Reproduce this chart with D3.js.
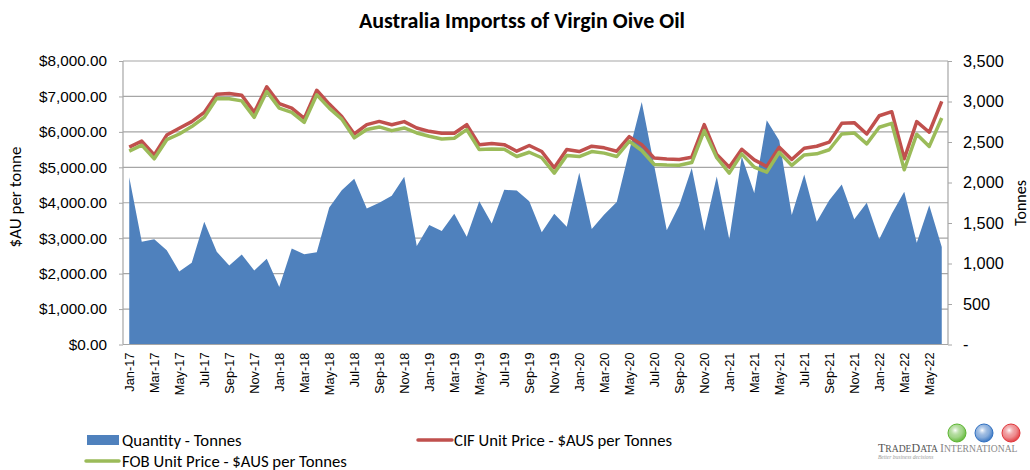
<!DOCTYPE html>
<html>
<head>
<meta charset="utf-8">
<script src="https://cdn.jsdelivr.net/npm/d3@7"></script>
<style>
  html, body { margin: 0; padding: 0; background: #fff; }
  svg { display: block; font-family: Carlito, Calibri, Lato, "Open Sans", sans-serif; }
</style>
</head>
<body>
<svg id="chart" width="1030" height="470"></svg>
<script>
const months = ["Jan-17","Feb-17","Mar-17","Apr-17","May-17","Jun-17","Jul-17","Aug-17","Sep-17","Oct-17","Nov-17","Dec-17",
  "Jan-18","Feb-18","Mar-18","Apr-18","May-18","Jun-18","Jul-18","Aug-18","Sep-18","Oct-18","Nov-18","Dec-18",
  "Jan-19","Feb-19","Mar-19","Apr-19","May-19","Jun-19","Jul-19","Aug-19","Sep-19","Oct-19","Nov-19","Dec-19",
  "Jan-20","Feb-20","Mar-20","Apr-20","May-20","Jun-20","Jul-20","Aug-20","Sep-20","Oct-20","Nov-20","Dec-20",
  "Jan-21","Feb-21","Mar-21","Apr-21","May-21","Jun-21","Jul-21","Aug-21","Sep-21","Oct-21","Nov-21","Dec-21",
  "Jan-22","Feb-22","Mar-22","Apr-22","May-22","Jun-22"];

const quantityTonnes = [2065,1270,1300,1165,900,1010,1515,1145,975,1110,915,1060,
  710,1185,1115,1140,1690,1905,2045,1680,1750,1835,2070,1215,
  1475,1400,1615,1330,1770,1495,1910,1900,1770,1385,1615,1455,
  2120,1425,1605,1760,2390,2995,2205,1410,1720,2180,1405,2075,
  1300,2320,1870,2770,2520,1600,2100,1515,1780,1975,1545,1750,
  1300,1615,1885,1255,1720,1205];

const cifPrice = [5570,5740,5350,5910,6100,6290,6550,7065,7085,7035,6550,7270,
  6800,6670,6380,7175,6785,6435,5940,6205,6295,6200,6290,6110,
  6015,5960,5960,6205,5635,5670,5640,5455,5615,5445,4985,5500,
  5445,5595,5550,5455,5865,5640,5260,5235,5220,5285,6205,5360,
  5005,5510,5210,5025,5565,5220,5540,5595,5710,6240,6260,5940,
  6455,6570,5240,6290,5990,6860];

const fobPrice = [5455,5625,5240,5780,5940,6150,6410,6945,6935,6875,6410,7140,
  6670,6550,6270,7045,6670,6360,5830,6065,6140,6035,6110,5970,
  5875,5800,5820,6065,5500,5520,5510,5305,5425,5270,4835,5335,
  5305,5445,5400,5305,5735,5475,5080,5065,5060,5135,6035,5270,
  4835,5380,5005,4865,5425,5055,5350,5380,5495,5940,5970,5660,
  6130,6240,4930,5935,5590,6390];

const leftTicks = [0,1000,2000,3000,4000,5000,6000,7000,8000];
const rightTicks = [0,500,1000,1500,2000,2500,3000,3500];
const seriesNames = ["Quantity - Tonnes","CIF Unit Price - $AUS per Tonnes","FOB Unit Price - $AUS per Tonnes"];
const titleText = "Australia Importss of Virgin Oive Oil";

const svg = d3.select("#chart");
const L = 123, R = 948, T = 61, B = 344.5;

const x = d3.scalePoint().domain(months).range([L, R]).padding(0.5);
const yL = d3.scaleLinear().domain([0, 8000]).range([B, T]);
const yR = d3.scaleLinear().domain([0, 3500]).range([B, T]);

const gridColor = "#a6a6a6";
const blue = "#4f81bd", red = "#c0504d", green = "#9bbb59";

// title
svg.append("text").attr("x", 522).attr("y", 28).attr("text-anchor", "middle")
  .attr("font-weight", "bold").attr("font-size", 22).attr("fill", "#000").text(titleText);

// gridlines
svg.append("g").selectAll("line").data(leftTicks).join("line")
  .attr("x1", L).attr("x2", R).attr("y1", d => yL(d)).attr("y2", d => yL(d))
  .attr("stroke", gridColor).attr("stroke-width", 1.2);

// area
const area = d3.area().x((d, i) => x(months[i])).y0(B).y1(d => yR(d));
svg.append("path").datum(quantityTonnes).attr("d", area).attr("fill", blue);

// lines
const lineL = d3.line().x((d, i) => x(months[i])).y(d => yL(d));
svg.append("path").datum(cifPrice).attr("d", lineL).attr("fill", "none")
  .attr("stroke", red).attr("stroke-width", 3.5).attr("stroke-linejoin", "round");
svg.append("path").datum(fobPrice).attr("d", lineL).attr("fill", "none")
  .attr("stroke", green).attr("stroke-width", 3.5).attr("stroke-linejoin", "round");

// plot borders
svg.append("line").attr("x1", L).attr("x2", L).attr("y1", T).attr("y2", B).attr("stroke", gridColor).attr("stroke-width", 1.2);
svg.append("line").attr("x1", R).attr("x2", R).attr("y1", T).attr("y2", B).attr("stroke", gridColor).attr("stroke-width", 1.2);
svg.append("line").attr("x1", L).attr("x2", R).attr("y1", B).attr("y2", B).attr("stroke", gridColor).attr("stroke-width", 1.2);

// left axis
const fmtL = d3.format("$,.2f");
const gL = svg.append("g").attr("transform", `translate(${L},0)`)
  .call(d3.axisLeft(yL).tickValues(leftTicks).tickFormat(fmtL).tickSize(4).tickPadding(12));
gL.select(".domain").remove();
gL.selectAll("line").attr("stroke", gridColor);
gL.selectAll("text").attr("font-size", 15.3).attr("fill", "#000").attr("font-family", null);

// right axis
const fmtR = d => d === 0 ? "-" : d3.format(",")(d);
const gR = svg.append("g").attr("transform", `translate(${R},0)`)
  .call(d3.axisRight(yR).tickValues(rightTicks).tickFormat(fmtR).tickSize(4).tickPadding(11));
gR.select(".domain").remove();
gR.selectAll("line").attr("stroke", gridColor);
gR.selectAll("text").attr("font-size", 16.3).attr("fill", "#000").attr("font-family", null);

// x axis
const xTickVals = months.filter((m, i) => i % 2 === 0);
const gX = svg.append("g").attr("transform", `translate(0,${B})`)
  .call(d3.axisBottom(x).tickValues(xTickVals).tickSize(0).tickPadding(0));
gX.select(".domain").remove();
gX.selectAll("text")
  .attr("font-size", 12.8).attr("fill", "#000").attr("font-family", null)
  .attr("text-anchor", "end")
  .attr("transform", "translate(0,8) rotate(-90)")
  .attr("x", 0).attr("y", 0).attr("dy", "0.35em");

// axis titles
svg.append("text").attr("transform", "translate(21,197) rotate(-90)").attr("text-anchor", "middle")
  .attr("font-size", 17).attr("fill", "#000").text("$AU per tonne");
svg.append("text").attr("transform", "translate(1026,203) rotate(-90)").attr("text-anchor", "middle")
  .attr("font-size", 16).attr("fill", "#000").text("Tonnes");

// legend
const lg = svg.append("g").attr("font-size", 16.7).attr("fill", "#000");
lg.append("rect").attr("x", 87).attr("y", 435).attr("width", 32).attr("height", 10).attr("fill", blue);
lg.append("text").attr("x", 122).attr("y", 440).attr("dy", "0.35em").text(seriesNames[0]);
lg.append("line").attr("x1", 418).attr("x2", 452).attr("y1", 440).attr("y2", 440).attr("stroke", red).attr("stroke-width", 3.5).attr("stroke-linecap", "round");
lg.append("text").attr("x", 454).attr("y", 440).attr("dy", "0.35em").text(seriesNames[1]);
lg.append("line").attr("x1", 86).attr("x2", 119).attr("y1", 461).attr("y2", 461).attr("stroke", green).attr("stroke-width", 3.5).attr("stroke-linecap", "round");
lg.append("text").attr("x", 122).attr("y", 461).attr("dy", "0.35em").text(seriesNames[2]);

// logo
const defs = svg.append("defs");
const globes = [{c: "#5cb531", cx: 957}, {c: "#2f6fc0", cx: 984}, {c: "#e0353a", cx: 1011}];
globes.forEach((g, i) => {
  const gr = defs.append("radialGradient").attr("id", "gl" + i).attr("cx", "40%").attr("cy", "35%").attr("r", "70%");
  gr.append("stop").attr("offset", "0%").attr("stop-color", "#ffffff");
  gr.append("stop").attr("offset", "55%").attr("stop-color", g.c).attr("stop-opacity", 0.55);
  gr.append("stop").attr("offset", "100%").attr("stop-color", g.c);
});
const logo = svg.append("g");
logo.selectAll("circle").data(globes).join("circle")
  .attr("cx", d => d.cx).attr("cy", 433).attr("r", 9)
  .attr("fill", (d, i) => `url(#gl${i})`).attr("stroke", d => d.c).attr("stroke-width", 1);
logo.append("text").attr("x", 878).attr("y", 452).attr("font-family", "'Liberation Serif', 'DejaVu Serif', serif")
  .attr("font-size", 9.6).attr("fill", "#555")
  .html('<tspan font-size="12">T</tspan>RADE<tspan font-size="12">D</tspan>ATA <tspan fill="#888"><tspan font-size="12">I</tspan>NTERNATIONAL</tspan>');
logo.append("text").attr("x", 878).attr("y", 459).attr("font-family", "'Liberation Serif', serif")
  .attr("font-style", "italic").attr("font-size", 5.5).attr("fill", "#999").text("Better business decisions");
</script>
</body>
</html>
